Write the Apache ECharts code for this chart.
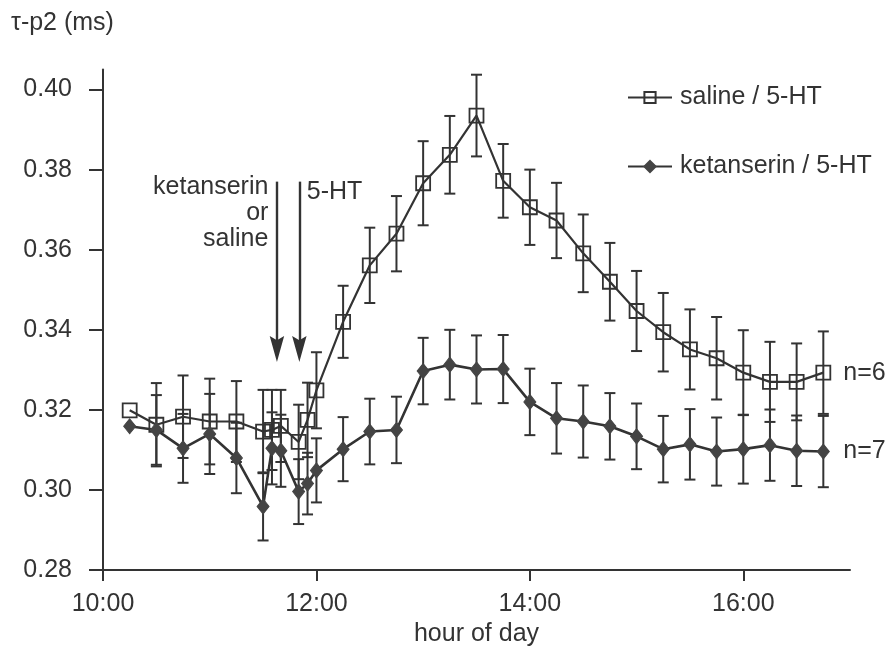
<!DOCTYPE html>
<html>
<head>
<meta charset="utf-8">
<script src="https://cdn.jsdelivr.net/npm/echarts@6/dist/echarts.min.js"></script>
<style>
  html, body { margin: 0; padding: 0; background: #fff; }
  #chart { width: 893px; height: 652px; }
</style>
</head>
<body>
<div id="chart"></div>
<script>
// ---- data ----
const times = ['10:15','10:30','10:45','11:00','11:15','11:30','11:35','11:40','11:50','11:55',
               '12:00','12:15','12:30','12:45','13:00','13:15','13:30','13:45','14:00','14:15',
               '14:30','14:45','15:00','15:15','15:30','15:45','16:00','16:15','16:30','16:45'];
const salineMean = [0.3199,0.3163,0.3183,0.3171,0.3171,0.3146,0.3150,0.3160,0.3120,0.3175,
                    0.3249,0.3420,0.3561,0.3640,0.3766,0.3837,0.3935,0.3772,0.3706,0.3673,
                    0.3591,0.3520,0.3447,0.3394,0.3351,0.3329,0.3293,0.3270,0.3270,0.3293];
const salineErr  = [0,0.0104,0.0103,0.0107,0.0101,0.0104,0.0100,0.0090,0.0093,0.0093,
                    0.0095,0.0090,0.0094,0.0094,0.0105,0.0097,0.0102,0.0092,0.0094,0.0094,
                    0.0097,0.0097,0.0100,0.0098,0.0100,0.0103,0.0106,0.0100,0.0096,0.0103];
const ketMean    = [0.3159,0.3150,0.3104,0.3140,0.3080,0.2959,0.3104,0.3098,0.2996,0.3016,
                    0.3049,0.3102,0.3146,0.3150,0.3297,0.3313,0.3301,0.3302,0.3220,0.3179,
                    0.3171,0.3159,0.3134,0.3102,0.3114,0.3096,0.3102,0.3112,0.3098,0.3096];
const ketErr     = [0,0.0087,0.0086,0.0100,0.0088,0.0085,0.0090,0.0090,0.0081,0.0077,
                    0.0080,0.0080,0.0082,0.0083,0.0083,0.0087,0.0085,0.0085,0.0083,0.0088,
                    0.0090,0.0083,0.0082,0.0083,0.0088,0.0085,0.0086,0.0089,0.0088,0.0089];
const seriesNames = ['saline / 5-HT', 'ketanserin / 5-HT'];
const nLabels = ['n=6', 'n=7'];
const xTicks = [10, 12, 14, 16];
const yTicks = [0.28, 0.30, 0.32, 0.34, 0.36, 0.38, 0.40];
// injection arrows: time (h), top value, end value
const arrowTimes = [11.63, 11.84];
const arrowTop = [0.3770, 0.3770];
const arrowEnd = [0.3352, 0.3352];
const annotations = [
  { text: 'ketanserin', t: 11.55, v: 0.3756, align: 'right' },
  { text: 'or',         t: 11.55, v: 0.3691, align: 'right' },
  { text: 'saline',     t: 11.55, v: 0.3627, align: 'right' },
  { text: '5-HT',       t: 11.91, v: 0.3743, align: 'left' }
];

// ---- helpers ----
const toHours = s => { const p = s.split(':'); return +p[0] + (+p[1]) / 60; };
const xs = times.map(toHours);
const ink = '#333';
const FONT = "'Liberation Sans', Arial, Helvetica, sans-serif";
const FS = 25;

function errRender(params, api) {
  const x = api.value(0), v = api.value(1), e = api.value(2);
  if (!e) return null;
  const top = api.coord([x, v + e]);
  const bot = api.coord([x, v - e]);
  const w = 5.5;
  const st = { stroke: ink, lineWidth: 2 };
  return { type: 'group', children: [
    { type: 'line', shape: { x1: top[0], y1: top[1], x2: bot[0], y2: bot[1] }, style: st },
    { type: 'line', shape: { x1: top[0] - w, y1: top[1], x2: top[0] + w, y2: top[1] }, style: st },
    { type: 'line', shape: { x1: bot[0] - w, y1: bot[1], x2: bot[0] + w, y2: bot[1] }, style: st }
  ]};
}

const chart = echarts.init(document.getElementById('chart'), null, { renderer: 'canvas' });
const arrowPath = 'path://M5,0 L10,18 L5,15 L0,18 Z';

const option = {
  backgroundColor: '#fff',
  animation: false,
  textStyle: { fontFamily: FONT, color: ink },
  title: {
    text: 'τ-p2 (ms)', left: 6, top: 6,
    textStyle: { fontFamily: FONT, fontSize: FS, fontWeight: 'normal', color: ink }
  },
  legend: {
    data: seriesNames,
    orient: 'vertical',
    left: 622, top: 80,
    itemWidth: 44, itemHeight: 14,
    itemGap: 44,
    textStyle: { fontFamily: FONT, fontSize: FS, color: ink, padding: [0, 0, 0, 3] }
  },
  grid: { left: 103, right: 43, top: 69.5, bottom: 70, containLabel: false },
  xAxis: {
    type: 'value', min: 10, max: 17,
    name: 'hour of day', nameLocation: 'middle', nameGap: 44,
    nameTextStyle: { fontFamily: FONT, fontSize: FS, color: ink },
    axisLine: { lineStyle: { color: ink, width: 2 } },
    axisTick: { show: true, length: 11, lineStyle: { color: ink, width: 2 }, customValues: xTicks },
    axisLabel: { customValues: xTicks, formatter: v => v + ':00', fontFamily: FONT, fontSize: FS, color: ink, margin: 22 },
    splitLine: { show: false }
  },
  yAxis: {
    type: 'value', min: 0.28, max: 0.405,
    axisLine: { show: true, lineStyle: { color: ink, width: 2 } },
    axisTick: { show: true, length: 14, lineStyle: { color: ink, width: 2 }, customValues: yTicks },
    axisLabel: { customValues: yTicks, formatter: v => v.toFixed(2), fontFamily: FONT, fontSize: FS, color: ink, margin: 31 },
    splitLine: { show: false }
  },
  series: [
    {
      type: 'custom', name: 'salineErr', renderItem: errRender, z: 1,
      encode: { x: 0, y: 1 },
      data: xs.map((x, i) => [x, salineMean[i], salineErr[i]])
    },
    {
      type: 'custom', name: 'ketErr', renderItem: errRender, z: 1,
      encode: { x: 0, y: 1 },
      data: xs.map((x, i) => [x, ketMean[i], ketErr[i]])
    },
    {
      type: 'line', name: seriesNames[0], z: 3,
      data: xs.map((x, i) => [x, salineMean[i]]),
      symbol: 'rect', symbolSize: 14, showAllSymbol: true,
      lineStyle: { color: ink, width: 2.2 },
      itemStyle: { color: 'rgba(0,0,0,0)', borderColor: ink, borderWidth: 1.8 },
      endLabel: { show: true, formatter: nLabels[0], fontFamily: FONT, fontSize: FS, color: ink, distance: 20 },
      emphasis: { disabled: true }
    },
    {
      type: 'line', name: seriesNames[1], z: 3,
      data: xs.map((x, i) => [x, ketMean[i]]),
      symbol: 'diamond', symbolSize: [12, 15], showAllSymbol: true,
      lineStyle: { color: ink, width: 2.6 },
      itemStyle: { color: '#444', borderColor: '#444', borderWidth: 1 },
      endLabel: { show: true, formatter: nLabels[1], fontFamily: FONT, fontSize: FS, color: ink, distance: 20 },
      emphasis: { disabled: true },
      markLine: {
        silent: true, animation: false,
        symbol: ['none', arrowPath], symbolSize: 26, symbolKeepAspect: true,
        lineStyle: { color: ink, width: 2.4, type: 'solid' },
        label: { show: false },
        data: arrowTimes.map((t, i) => [{ coord: [t, arrowTop[i]] }, { coord: [t, arrowEnd[i]] }])
      }
    }
  ]
};
chart.setOption(option);

// annotation texts placed at data coordinates
const graphics = annotations.map(a => {
  const p = chart.convertToPixel({ gridIndex: 0 }, [a.t, a.v]);
  return { type: 'text', x: p[0], y: p[1], silent: true,
    style: { text: a.text, fill: ink, font: FS + 'px ' + FONT, align: a.align, verticalAlign: 'middle' } };
});
chart.setOption({ graphic: graphics });
</script>
</body>
</html>
